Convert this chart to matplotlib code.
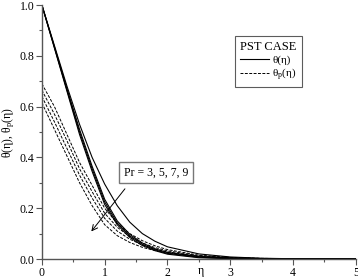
import matplotlib
matplotlib.use("Agg")
import matplotlib.pyplot as plt
from matplotlib.lines import Line2D
from matplotlib.ticker import MultipleLocator, FormatStrFormatter

plt.rcParams['font.family'] = ['Liberation Serif', 'DejaVu Serif']
plt.rcParams['mathtext.fontset'] = 'stix'

eta = [0, 0.2, 0.4, 0.6, 0.8, 1.0, 1.2, 1.4, 1.6, 1.8, 2.0, 2.5, 3.0, 3.5, 4.0, 4.5, 5.0]

# theta(eta), Pr = 3, 5, 7, 9
theta_pr3 = [1.00, 0.84, 0.68, 0.53, 0.40, 0.295, 0.21, 0.145, 0.10, 0.07, 0.048, 0.02, 0.008, 0.003, 0.001, 0.0004, 0.0]
theta_pr5 = [1.00, 0.835, 0.67, 0.51, 0.365, 0.235, 0.15, 0.097, 0.063, 0.04, 0.026, 0.009, 0.003, 0.001, 0.0003, 0.0001, 0.0]
theta_pr7 = [1.00, 0.833, 0.665, 0.50, 0.355, 0.225, 0.142, 0.091, 0.058, 0.036, 0.022, 0.007, 0.002, 0.0006, 0.0002, 0.0, 0.0]
theta_pr9 = [1.00, 0.83, 0.66, 0.49, 0.345, 0.215, 0.135, 0.085, 0.053, 0.033, 0.019, 0.005, 0.0015, 0.0004, 0.0001, 0.0, 0.0]

# theta_p(eta), Pr = 3, 5, 7, 9
thetap_pr3 = [0.69, 0.60, 0.49, 0.38, 0.29, 0.20, 0.14, 0.10, 0.072, 0.052, 0.037, 0.015, 0.006, 0.0025, 0.001, 0.0004, 0.0]
thetap_pr5 = [0.665, 0.57, 0.465, 0.355, 0.265, 0.18, 0.125, 0.088, 0.063, 0.045, 0.032, 0.013, 0.005, 0.002, 0.0008, 0.0003, 0.0]
thetap_pr7 = [0.64, 0.54, 0.435, 0.33, 0.24, 0.16, 0.11, 0.078, 0.055, 0.039, 0.028, 0.011, 0.0045, 0.0018, 0.0007, 0.0002, 0.0]
thetap_pr9 = [0.615, 0.51, 0.405, 0.30, 0.21, 0.135, 0.092, 0.065, 0.046, 0.033, 0.024, 0.01, 0.004, 0.0015, 0.0006, 0.0002, 0.0]

fig = plt.figure(figsize=(3.58, 2.8), dpi=100)
ax = fig.add_axes([0.117, 0.075, 0.877, 0.907])

for th in [theta_pr3, theta_pr5, theta_pr7, theta_pr9]:
    ax.plot(eta, th, color='black', lw=0.8)
for th in [thetap_pr3, thetap_pr5, thetap_pr7, thetap_pr9]:
    ax.plot(eta, th, color='black', lw=0.7, ls=(0, (3, 1.5)))

ax.set_xlim(0, 5)
ax.set_ylim(0, 1.0)
ax.spines['top'].set_visible(False)
ax.spines['right'].set_visible(False)
for s in ['left', 'bottom']:
    ax.spines[s].set_color('#555555')
    ax.spines[s].set_linewidth(1.0)

ax.xaxis.set_major_locator(MultipleLocator(1))
ax.xaxis.set_minor_locator(MultipleLocator(0.5))
ax.yaxis.set_major_locator(MultipleLocator(0.2))
ax.yaxis.set_minor_locator(MultipleLocator(0.1))
ax.yaxis.set_major_formatter(FormatStrFormatter('%.1f'))
ax.tick_params(which='major', direction='out', length=4, width=0.8, color='#555555', labelsize=8.5, pad=1.5)
ax.tick_params(which='minor', direction='out', length=2, width=0.8, color='#555555')

ax.set_xlabel('η', fontsize=8.5)
ax.xaxis.set_label_coords(0.505, -0.025)
ax.set_ylabel('θ(η), θ$_\\mathregular{p}$(η)', fontsize=8.5, labelpad=2)

handles = [Line2D([], [], color='black', lw=0.8),
           Line2D([], [], color='black', lw=0.7, ls=(0, (3, 1.5)))]
leg = ax.legend(handles, ['θ(η)', 'θ$_\\mathregular{p}$(η)'], title='PST CASE',
                loc='upper left', bbox_to_anchor=(0.598, 0.9), fontsize=8,
                title_fontsize=9, frameon=True, fancybox=False, handlelength=2.6,
                handletextpad=0.3, borderpad=0.45, labelspacing=0.15)
leg.get_frame().set_edgecolor('#333333')
leg.get_frame().set_linewidth(0.8)

ax.annotate('', xy=(0.76, 0.10), xytext=(1.35, 0.285),
            arrowprops=dict(arrowstyle='->', color='black', lw=0.7))
ax.text(1.815, 0.341, 'Pr = 3, 5, 7, 9', fontsize=8.5, ha='center', va='center',
        bbox=dict(boxstyle='square,pad=0.4', fc='white', ec='#777777', lw=1.0))

fig.savefig('out.png', dpi=100)
